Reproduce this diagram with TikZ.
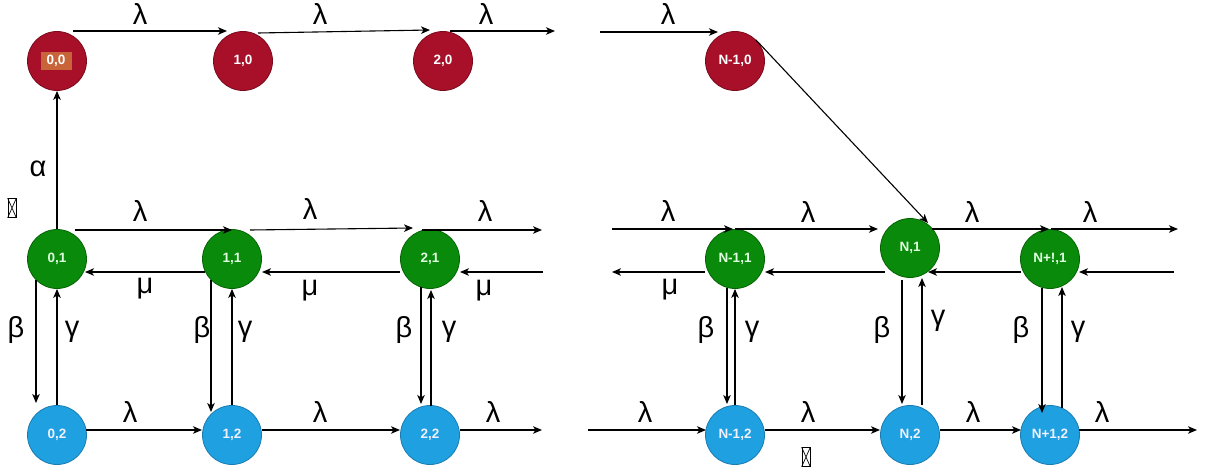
\documentclass[tikz,border=0pt]{standalone}
\usepackage{fontspec}
\setmainfont{Liberation Sans}
\usetikzlibrary{calc,arrows.meta}

\definecolor{redfill}{HTML}{A8102A}
\definecolor{redline}{HTML}{7A0A1C}
\definecolor{greenfill}{HTML}{0A8A0A}
\definecolor{greenline}{HTML}{066306}
\definecolor{bluefill}{HTML}{1FA0E0}
\definecolor{blueline}{HTML}{1A7CB0}
\definecolor{tagfill}{HTML}{C8643A}

\tikzset{
  state/.style={circle, minimum size=59pt, inner sep=0pt, line width=0.8pt,
    font=\fontsize{13.5}{15}\selectfont\bfseries, text=white},
  redstate/.style={state, fill=redfill, draw=redline},
  greenstate/.style={state, fill=greenfill, draw=greenline, text=green!12!white},
  bluestate/.style={state, fill=bluefill, draw=blueline, text=blue!6!white},
  trans/.style={line width=1.1pt, -{Stealth[length=9pt,width=7.5pt,inset=2.5pt]}},
  rate/.style={font=\fontsize{29}{32}\selectfont, inner sep=0pt},
  tofu/.style={draw, line width=0.7pt, minimum width=8pt, minimum height=19pt, inner sep=0pt}
}

\begin{document}
\begin{tikzpicture}[x=1pt,y=-1pt]
\useasboundingbox (0,0) rectangle (1205,476);

% states with no job in service (row 0)
\node[redstate] (n00)  at (57,61)  {};
\node[fill=tagfill, minimum width=31pt, minimum height=18pt, inner sep=0pt,
      font=\fontsize{13.5}{15}\selectfont\bfseries, text=white] (t00) at (56,61) {0,0};
\node[redstate] (n10)  at (243,61) {1,0};
\node[redstate] (n20)  at (443,61) {2,0};
\node[redstate] (nN10) at (735,61) {N-1,0};

% states of row 1
\node[greenstate] (n01)  at (57,259)  {0,1};
\node[greenstate] (n11)  at (232,259) {1,1};
\node[greenstate] (n21)  at (430,259) {2,1};
\node[greenstate] (nN11) at (735,259) {N-1,1};
\node[greenstate] (nN1)  at (910,248) {N,1};
\node[greenstate] (nNp1) at (1050,259) {N+!,1};

% states of row 2
\node[bluestate] (n02)   at (57,435)   {0,2};
\node[bluestate] (n12)   at (232,435)  {1,2};
\node[bluestate] (n22)   at (430,435)  {2,2};
\node[bluestate] (nN12)  at (735,435)  {N-1,2};
\node[bluestate] (nN2)   at (910,435)  {N,2};
\node[bluestate] (nNp12) at (1050,435) {N+1,2};

% loose ends of the truncated chains
\coordinate (o0) at (555,31);
\coordinate (i0) at (600,32);
\coordinate (o1) at (542,230);
\coordinate (i1) at (612,229);
\coordinate (e1) at (1178,229);
\coordinate (m1) at (543,272);
\coordinate (m2) at (612,272);
\coordinate (m3) at (1174,272);
\coordinate (o2) at (542,430);
\coordinate (i2) at (588,430);
\coordinate (e2) at (1197,430);

% arrivals along row 0
\draw[trans] ($(n00)+(16,-30)$) -- ($(n10)+(-16,-30)$);
\draw[trans] ($(n10)+(15,-28)$) -- ($(n20)+(-13,-31)$);
\draw[trans] ($(n20)+(7,-30)$) -- (o0);
\draw[trans] (i0) -- ($(nN10)+(-17,-29)$);
\draw[trans] ($(nN10)+(21,-21)$) -- ($(nN1)+(18,-25)$);
\draw[trans] (n01.north) -- (n00.south);

% arrivals along row 1
\draw[trans] ($(n01)+(18,-29)$) -- ($(n11)+(0,-29)$);
\draw[trans] ($(n11)+(18,-29)$) -- ($(n21)+(-17,-31)$);
\draw[trans] ($(n21)+(-8,-29)$) -- (o1);
\draw[trans] (i1) -- ($(nN11)+(-2,-30)$);
\draw[trans] ($(nN11)+(0,-30)$) -- ($(nN1)+(-32,-19)$);
\draw[trans] ($(nN1)+(22,-19)$) -- ($(nNp1)+(-1,-30)$);
\draw[trans] ($(nNp1)+(1,-30)$) -- (e1);

% services along row 1
\draw[trans] ($(n11)+(-27,13)$) -- ($(n01)+(28,13)$);
\draw[trans] ($(n21)+(-30,13)$) -- ($(n11)+(30,13)$);
\draw[trans] (m1) -- ($(n21)+(30,13)$);
\draw[trans] ($(nN11)+(-30,13)$) -- (m2);
\draw[trans] ($(nN1)+(-25,24)$) -- ($(nN11)+(30,13)$);
\draw[trans] ($(nNp1)+(-29,13)$) -- ($(nN1)+(18,24)$);
\draw[trans] (m3) -- ($(nNp1)+(29,13)$);

% switching between rows 1 and 2
\draw[trans] ($(n01)+(-21,21)$) -- ($(n02)+(-21,-32)$);
\draw[trans] (n02.north) -- (n01.south);
\draw[trans] ($(n11)+(-21,21)$) -- ($(n12)+(-21,-23)$);
\draw[trans] (n12.north) -- (n11.south);
\draw[trans] ($(n21)+(-9,28)$) -- ($(n22)+(-9,-31)$);
\draw[trans] ($(n22)+(1,-29)$) -- ($(n21)+(1,31)$);
\draw[trans] ($(nN11)+(-8,29)$) -- ($(nN12)+(-8,-31)$);
\draw[trans] (nN12.north) -- (nN11.south);
\draw[trans] ($(nN1)+(-8,32)$) -- ($(nN2)+(-8,-31)$);
\draw[trans] ($(nN2)+(12,-30)$) -- ($(nN1)+(12,30)$);
\draw[trans] ($(nNp1)+(-8,29)$) -- ($(nNp12)+(-8,-22)$);
\draw[trans] ($(nNp12)+(12,-27)$) -- ($(nNp1)+(12,28)$);

% arrivals along row 2
\draw[trans] ($(n02)+(29,-5)$) -- ($(n12)+(-30,-5)$);
\draw[trans] ($(n12)+(30,-5)$) -- ($(n22)+(-30,-5)$);
\draw[trans] ($(n22)+(30,-5)$) -- (o2);
\draw[trans] (i2) -- ($(nN12)+(-29,-5)$);
\draw[trans] ($(nN12)+(30,-5)$) -- ($(nN2)+(-30,-5)$);
\draw[trans] ($(nN2)+(30,-5)$) -- ($(nNp12)+(-29,-5)$);
\draw[trans] ($(nNp12)+(29,-5)$) -- (e2);

% rate labels, row 0
\node[rate] (la1) at (140,14) {λ};
\node[rate] (la2) at (320,14) {λ};
\node[rate] (la3) at (486,14) {λ};
\node[rate] (la4) at (668,14) {λ};
\node[rate] (al)  at (38,169) {α};

% rate labels, row 1
\node[rate] (lb1) at (140,211) {λ};
\node[rate] (lb2) at (310,209) {λ};
\node[rate] (lb3) at (485,211) {λ};
\node[rate] (lb4) at (668,211) {λ};
\node[rate] (lb5) at (808,212) {λ};
\node[rate] (lb6) at (972,212) {λ};
\node[rate] (lb7) at (1090,212) {λ};
\node[rate] (mu1) at (145,289) {μ};
\node[rate] (mu2) at (310,291) {μ};
\node[rate] (mu3) at (484,291) {μ};
\node[rate] (mu4) at (670,290) {μ};

% switching rate labels
\node[rate] (b0) at (16,330) {β};
\node[rate] (g0) at (72,332) {γ};
\node[rate] (b1) at (202,330) {β};
\node[rate] (g1) at (245,332) {γ};
\node[rate] (b2) at (404,330) {β};
\node[rate] (g2) at (449,332) {γ};
\node[rate] (b3) at (706,330) {β};
\node[rate] (g3) at (752,332) {γ};
\node[rate] (b4) at (882,330) {β};
\node[rate] (g4) at (938,321) {γ};
\node[rate] (b5) at (1021,330) {β};
\node[rate] (g5) at (1078,332) {γ};

% rate labels, row 2
\node[rate] (lc1) at (130,412) {λ};
\node[rate] (lc2) at (320,412) {λ};
\node[rate] (lc3) at (493,412) {λ};
\node[rate] (lc4) at (645,412) {λ};
\node[rate] (lc5) at (808,412) {λ};
\node[rate] (lc6) at (973,412) {λ};
\node[rate] (lc7) at (1102,412) {λ};

% unrendered glyph boxes
\node[tofu] (x1) at (12,208) {};
\draw[line width=0.7pt] (x1.north west) -- (x1.south east) (x1.north east) -- (x1.south west);
\node[tofu] (x2) at (806,457) {};
\draw[line width=0.7pt] (x2.north west) -- (x2.south east) (x2.north east) -- (x2.south west);
\end{tikzpicture}
\end{document}
